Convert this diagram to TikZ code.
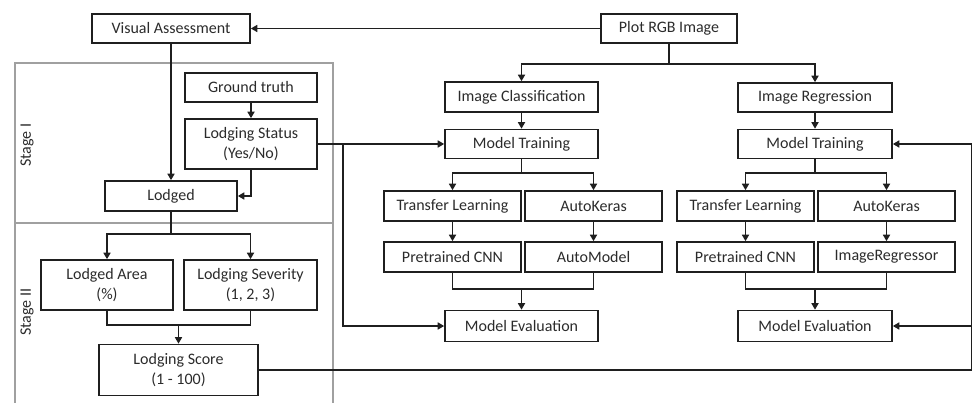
\documentclass[tikz,border=0pt]{standalone}
\usepackage{fontspec}
\setmainfont{Carlito}
\usetikzlibrary{arrows.meta,calc,positioning}
\definecolor{flowink}{HTML}{1F1F1F}
\definecolor{stagegray}{HTML}{A0A0A0}
\definecolor{labelink}{HTML}{2B2B2B}
\begin{document}
\begin{tikzpicture}[
        x=1pt, y=-1pt,
        stepbox/.style={
            draw=flowink,
            line width=1.6pt,
            align=center,
            minimum width=137pt,
            minimum height=30pt,
            inner sep=1pt,
            text=labelink,
            font=\fontsize{16}{19.5}\selectfont
        },
        widebox/.style={stepbox, minimum width=153pt},
        tallbox/.style={stepbox, minimum width=132pt, minimum height=50pt},
        stagetag/.style={rotate=90, text=labelink, font=\fontsize{16}{19.5}\selectfont},
        flow/.style={-{Triangle[length=6.5pt,width=7pt]}, line width=1.6pt, draw=flowink},
        plain/.style={line width=1.6pt, draw=flowink},
        frame/.style={line width=1.5pt, draw=stagegray}
    ]
        \useasboundingbox (0,0) rectangle (973,403);

        \draw[frame] (15,63) rectangle (333,410);
        \draw[frame] (15,223) -- (333,223);
        \node[stagetag] (stageone) at (27,145) {Stage I};
        \node[stagetag] (stagetwo) at (27,312) {Stage II};

        \node[stepbox, minimum width=158pt, minimum height=29pt] (visual) at (171,28.5) {Visual Assessment};
        \node[stepbox, minimum width=136pt, minimum height=29pt] (plot) at (669,28.5) {Plot RGB Image};
        \node[stepbox, minimum width=132pt, minimum height=29pt] (truth) at (251,87.5) {Ground truth};
        \node[tallbox] (status) at (251,144) {Lodging Status\\(Yes/No)};
        \node[stepbox, minimum width=132pt] (lodged) at (171,196) {Lodged};
        \node[tallbox] (area) at (107,285) {Lodged Area\\(\%)};
        \node[tallbox, minimum width=133pt] (severity) at (250.5,285) {Lodging Severity\\(1, 2, 3)};
        \node[tallbox, minimum width=159pt, minimum height=51pt] (score) at (178.5,370) {Lodging Score\\(1 - 100)};

        \node[widebox] (classify) at (521.5,97) {Image Classification};
        \node[widebox, minimum height=29pt] (trainA) at (521.5,144) {Model Training};
        \node[stepbox] (transferA) at (452.5,206) {Transfer Learning};
        \node[stepbox] (keras) at (593.5,206) {AutoKeras};
        \node[stepbox] (cnnA) at (452.5,257) {Pretrained CNN};
        \node[stepbox] (automodel) at (593.5,257) {AutoModel};
        \node[widebox, minimum height=31pt] (evalA) at (521.5,326) {Model Evaluation};

        \node[widebox, minimum width=154pt, minimum height=29pt] (regress) at (815,97.5) {Image Regression};
        \node[widebox, minimum width=154pt, minimum height=29pt] (trainB) at (815,144) {Model Training};
        \node[stepbox] (transferB) at (745.5,206) {Transfer Learning};
        \node[stepbox] (kerasB) at (886.5,206) {AutoKeras};
        \node[stepbox] (cnnB) at (745.5,257) {Pretrained CNN};
        \node[stepbox] (regressor) at (886.5,257) {ImageRegressor};
        \node[widebox, minimum width=154pt, minimum height=31pt] (evalB) at (815,326) {Model Evaluation};

        \coordinate (tap) at (343,0);
        \coordinate (edge) at (971.5,0);

        \draw[flow] (plot.west) -- (visual.east);
        \draw[flow] (visual.south) -- (lodged.north);
        \draw[flow] (truth) -- (status);
        \draw[flow] (status.south) |- (lodged.east);
        \draw[flow] (lodged.south) -- ++(0,22) -| (area.north);
        \draw[flow] (lodged.south) -- ++(0,22) -| (severity.north);
        \draw[plain] (area.south) -- ++(0,14) coordinate (areajoin) -| (severity.south);
        \draw[flow] (areajoin -| score.north) -- (score.north);

        \draw[flow] (status.east) -- (trainA.west);
        \draw[flow] (status.east -| tap) |- (evalA.west);
        \draw[flow] (plot.south) -- ++(0,20) -| (classify.north);
        \draw[flow] (plot.south) -- ++(0,20) -| (regress.north);

        \draw[flow] (classify) -- (trainA);
        \draw[flow] (trainA.south) -- ++(0,14) -| (transferA.north);
        \draw[flow] (trainA.south) -- ++(0,14) -| (keras.north);
        \draw[flow] (transferA) -- (cnnA);
        \draw[flow] (keras) -- (automodel);
        \draw[plain] (cnnA.south) -- ++(0,16) coordinate (joinA) -| (automodel.south);
        \draw[flow] (joinA -| evalA.north) -- (evalA.north);

        \draw[flow] (regress) -- (trainB);
        \draw[flow] (trainB.south) -- ++(0,14) -| (transferB.north);
        \draw[flow] (trainB.south) -- ++(0,14) -| (kerasB.north);
        \draw[flow] (transferB) -- (cnnB);
        \draw[flow] (kerasB) -- (regressor);
        \draw[plain] (cnnB.south) -- ++(0,16) coordinate (joinB) -| (regressor.south);
        \draw[flow] (joinB -| evalB.north) -- (evalB.north);

        \draw[plain] (score.east) -| (edge |- trainB.east);
        \draw[flow] (edge |- trainB.east) -- (trainB.east);
        \draw[flow] (edge |- evalB.east) -- (evalB.east);
    \end{tikzpicture}
\end{document}
